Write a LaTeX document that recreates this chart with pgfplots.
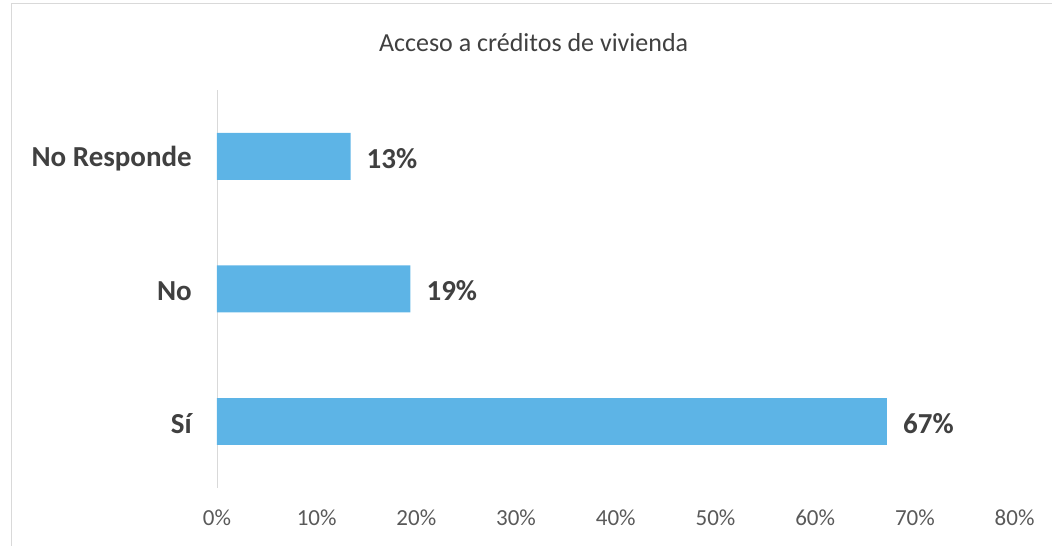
\documentclass[border=0pt]{standalone}
\usepackage{pgfplots}
\pgfplotsset{compat=1.18}
\usepackage{fontspec}
\setmainfont{Carlito}
\definecolor{barblue}{HTML}{5DB4E6}
\definecolor{labgray}{HTML}{404040}
\definecolor{tickgray}{HTML}{595959}
\definecolor{linegray}{HTML}{D9D9D9}
\pgfkeys{/pgf/number format/assume math mode=true}
\begin{document}
\begin{tikzpicture}[x=1pt,y=1pt]
\path (0,0) rectangle (1052,546);
\draw[linegray, line width=0.8pt] (11,0) -- (11,543) -- (1052,543);
\begin{axis}[
  at={(217pt,58pt)}, anchor=south west,
  scale only axis, width=798pt, height=398pt,
  xbar, bar width=47pt,
  xmin=0, xmax=80, ymin=-0.5, ymax=2.5,
  xtick={0,10,...,80},
  xticklabel={\pgfmathprintnumber[assume math mode=true]{\tick}\%},
  ytick={0,1,2},
  yticklabels={Sí,No,No Responde},
  major tick length=0pt,
  axis x line*=bottom, axis y line*=left,
  x axis line style={draw=none},
  y axis line style={draw=linegray, line width=0.8pt},
  xticklabel style={font=\fontsize{23}{27}\selectfont, text=tickgray, anchor=center, yshift=-30pt, inner sep=0pt},
  yticklabel style={font=\fontsize{29}{34}\selectfont\bfseries, text=labgray, anchor=east, inner sep=0pt, xshift=-25pt, yshift=-2pt},
  title={Acceso a créditos de vivienda},
  title style={font=\fontsize{26}{31}\selectfont, text=labgray, at={(axis description cs:0.397,1.103)}, anchor=center, inner sep=0pt},
  nodes near coords={\pgfmathprintnumber[fixed,precision=0,assume math mode=true]{\pgfplotspointmeta}\%},
  point meta=x,
  nodes near coords style={font=\fontsize{29}{34}\selectfont\bfseries, text=labgray, anchor=west, inner sep=0pt, xshift=16pt, yshift=-2pt},
  clip=false,
]
\addplot[fill=barblue, draw=none] coordinates {(67.2,0) (19.4,1) (13.4,2)};
\end{axis}
\end{tikzpicture}
\end{document}
